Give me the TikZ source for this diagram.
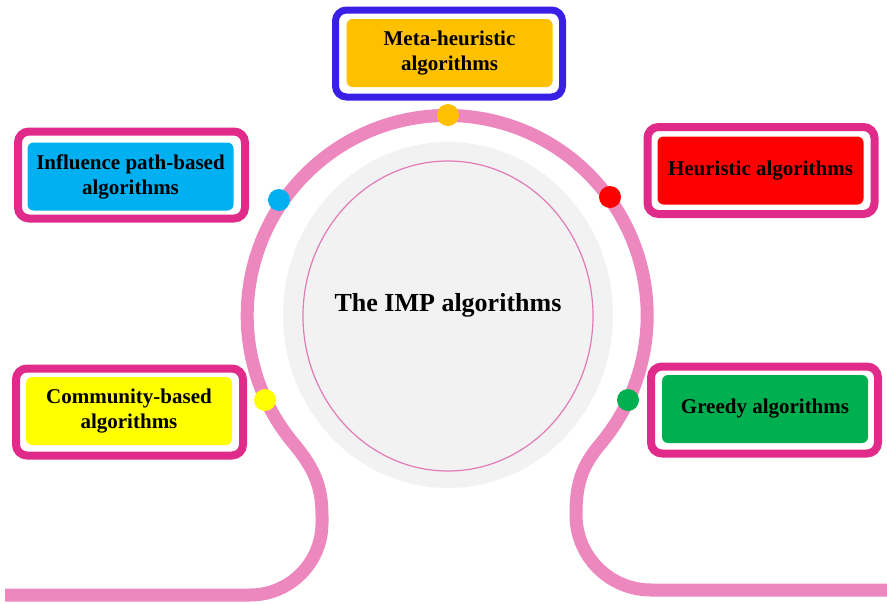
\documentclass[tikz,border=0pt]{standalone}
\usepackage{fontspec}
\setmainfont{Liberation Serif}
\usepackage{tikz}
\usetikzlibrary{positioning}
\definecolor{trackpink}{RGB}{236,136,190}
\definecolor{framepink}{RGB}{224,43,138}
\definecolor{frameblue}{RGB}{58,32,230}
\definecolor{centregray}{RGB}{242,242,242}
\definecolor{ringpink}{RGB}{226,122,184}
\definecolor{metaorange}{RGB}{255,192,0}
\definecolor{inflblue}{RGB}{0,176,240}
\definecolor{heurred}{RGB}{255,0,0}
\definecolor{commyellow}{RGB}{255,255,0}
\definecolor{greedygreen}{RGB}{0,176,80}

\begin{document}
\begin{tikzpicture}[x=1pt,y=1pt,
    frame node/.style={draw=framepink,line width=8pt,fill=white,rounded corners=11pt,minimum width=227pt,minimum height=87pt},
    tag node/.style={rounded corners=6pt,minimum width=206pt,minimum height=68pt,inner sep=0pt,align=center,font=\fontsize{21}{25}\selectfont\bfseries},
    dot node/.style={circle,inner sep=0pt,minimum size=22pt}]
  \useasboundingbox (0,0) rectangle (887,-603);

  % centre disc
  \fill[centregray] (448,-315) ellipse [x radius=165pt, y radius=173pt];
  \draw[ringpink,line width=1.2pt] (448,-316) ellipse [x radius=145pt, y radius=155pt];
  \node[font=\fontsize{26}{30}\selectfont\bfseries] (imp) at (448,-305) {The IMP algorithms};

  % track
  \draw[trackpink,line width=13pt] (5,-595) -- (250,-595)
      arc [start angle=-90, end angle=0, radius=72pt] -- (322,-515)
      .. controls (322,-485) and (313,-467) .. (294,-444)
      arc [start angle=220, end angle=-40, radius=200pt]
      .. controls (581,-467) and (576,-485) .. (576,-515)
      arc [start angle=180, end angle=270, radius=75pt] -- (887,-590);

  \node[dot node,fill=metaorange] (d1) at (448,-115) {};
  \node[dot node,fill=inflblue] (d2) at (279,-200) {};
  \node[dot node,fill=heurred] (d3) at (610,-197) {};
  \node[dot node,fill=commyellow] (d4) at (265,-400) {};
  \node[dot node,fill=greedygreen] (d5) at (628,-400) {};

  % boxes
  \node[frame node,draw=frameblue,line width=7pt] (metaf) at (449,-53.5) {};
  \node[tag node,fill=metaorange] (meta) at (449.5,-53) {Meta-heuristic\\algorithms};

  \node[frame node] (inflf) at (131.5,-175) {};
  \node[tag node,fill=inflblue] (infl) at (130.5,-176.5) {Influence path-based\\algorithms};

  \node[frame node] (heurf) at (761,-170.5) {};
  \node[tag node,fill=heurred] (heur) at (760.5,-170.5) {Heuristic algorithms};

  \node[frame node] (commf) at (129.5,-412) {};
  \node[tag node,fill=commyellow] (comm) at (129,-411) {Community-based\\algorithms};

  \node[frame node] (greedyf) at (764.5,-410) {};
  \node[tag node,fill=greedygreen] (greedy) at (765,-409) {Greedy algorithms};
\end{tikzpicture}
\end{document}
